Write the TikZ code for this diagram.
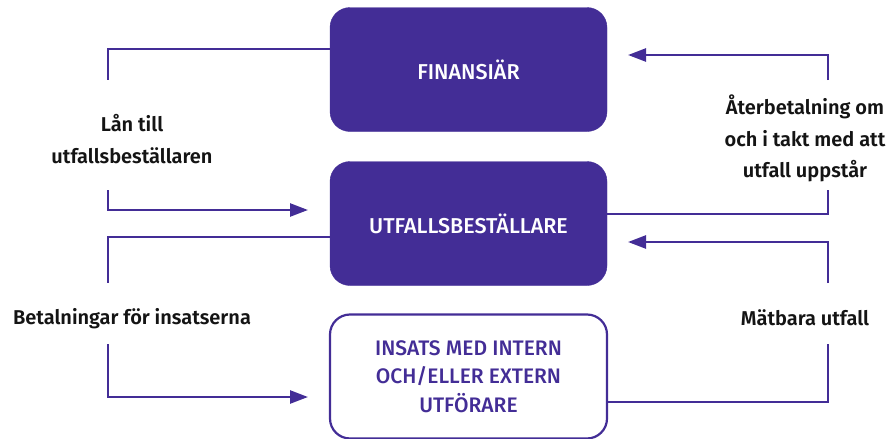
\documentclass[tikz,border=0pt]{standalone}
\usepackage{fontspec}
\setmainfont{Fira Sans}[BoldFont={Fira Sans SemiBold}]
\newfontfamily\medfont{Fira Sans Medium}
\usetikzlibrary{arrows.meta}
\definecolor{lila}{RGB}{67,45,150}
\definecolor{ink}{RGB}{20,20,20}
\tikzset{
  box/.style={rounded corners=20pt, minimum width=277pt, minimum height=124pt, inner sep=0pt, align=center},
  fullbox/.style={box, fill=lila, draw=lila, text=white, font=\fontsize{21.5}{28.5}\selectfont\medfont},
  openbox/.style={box, fill=white, draw=lila, line width=2.2pt, text=lila, font=\fontsize{21}{28.5}\selectfont\medfont},
  flow/.style={draw=lila, line width=2.5pt},
  flowarrow/.style={flow, -{Triangle[length=18pt,width=13pt]}},
  lbl/.style={text=ink, align=center, inner sep=0pt, font=\fontsize{20}{31.7}\selectfont\bfseries}
}
\begin{document}
\begin{tikzpicture}[x=1pt,y=-1pt]
\useasboundingbox (0,0) rectangle (889,439);

% the three boxes
\node[fullbox] (fin) at (468.5,69.5) {FINANSIÄR};
\node[fullbox] (ufb) at (468.5,223.5) {UTFALLSBESTÄLLARE};
\node[openbox] (ins) at (468.5,376.5) {INSATS MED INTERN\\OCH/ELLER EXTERN\\UTFÖRARE};

% labels
\node[lbl] (lan) at (132,139) {Lån till\\utfallsbeställaren};
\node[lbl] (ater) at (805,138.5) {Återbetalning om\\och i takt med att\\utfall uppstår};
\node[lbl] (bet) at (132,319) {Betalningar för insatserna};
\node[lbl] (mat) at (805,318) {Mätbara utfall};

% turning points and arrow ends
\coordinate (l1a) at (108,49);
\coordinate (l1b) at (108,80);
\coordinate (l1c) at (108,190);
\coordinate (l1d) at (108,210);
\coordinate (l1t) at (308,210);

\coordinate (r1a) at (828,55);
\coordinate (r1b) at (828,80);
\coordinate (r1c) at (828,190);
\coordinate (r1d) at (828,214);
\coordinate (r1t) at (628,55);

\coordinate (l2a) at (108,237);
\coordinate (l2b) at (108,283);
\coordinate (l2c) at (108,344);
\coordinate (l2d) at (108,397);
\coordinate (l2t) at (308,397);

\coordinate (r2a) at (828,242);
\coordinate (r2b) at (828,283);
\coordinate (r2c) at (828,344);
\coordinate (r2d) at (828,402);
\coordinate (r2t) at (628,242);

% loan: financier -> commissioner
\draw[flow] (l1a -| fin.west) -- (l1a) -- (l1b);
\draw[flowarrow] (l1c) -- (l1d) -- (l1t);

% repayment: commissioner -> financier
\draw[flow] (r1d -| ufb.east) -- (r1d) -- (r1c);
\draw[flowarrow] (r1b) -- (r1a) -- (r1t);

% payments: commissioner -> intervention
\draw[flow] (l2a -| ufb.west) -- (l2a) -- (l2b);
\draw[flowarrow] (l2c) -- (l2d) -- (l2t);

% outcomes: intervention -> commissioner
\draw[flow] (r2d -| ins.east) -- (r2d) -- (r2c);
\draw[flowarrow] (r2b) -- (r2a) -- (r2t);
\end{tikzpicture}
\end{document}
